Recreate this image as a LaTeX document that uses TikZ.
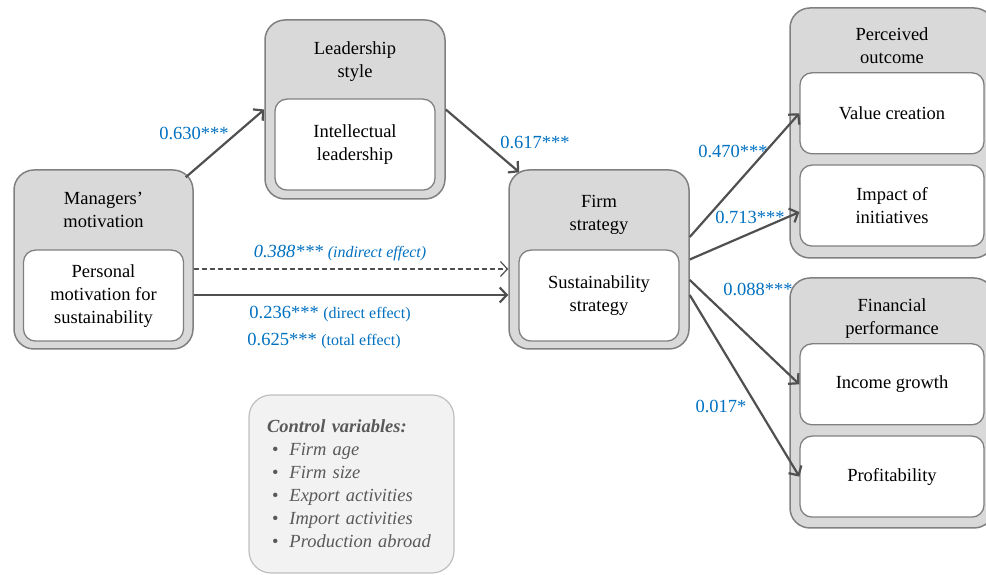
\documentclass[tikz,border=0pt]{standalone}
\usepackage{fontspec}
\setmainfont{Liberation Serif}
\usepackage{xcolor}
\usetikzlibrary{arrows.meta,positioning}
\definecolor{boxgrey}{HTML}{D9D9D9}
\definecolor{edgegrey}{HTML}{808080}
\definecolor{arrowgrey}{HTML}{505050}
\definecolor{coefblue}{HTML}{0070C0}
\definecolor{ctrlfill}{HTML}{F2F2F2}
\definecolor{ctrledge}{HTML}{BFBFBF}
\definecolor{ctrltext}{HTML}{595959}
\newcommand{\effectfont}{\fontsize{16}{20}\selectfont}

\begin{document}
\begin{tikzpicture}[
  x=1pt,y=1pt,
  outerbox/.style={draw=edgegrey,line width=1.5pt,rounded corners=20pt,fill=boxgrey},
  innerbox/.style={draw=edgegrey,line width=1.3pt,rounded corners=12pt,fill=white,
                   minimum width=160pt,minimum height=91pt,align=center,
                   font=\fontsize{18.5}{23}\selectfont},
  titletext/.style={align=center,font=\fontsize{18.5}{23}\selectfont,inner sep=0pt},
  arr/.style={-{Straight Barb[length=7pt,width=15pt]},line width=2.2pt,arrowgrey},
  coef/.style={coefblue,font=\fontsize{18.5}{23}\selectfont,inner sep=0pt}
]
\useasboundingbox (0,0) rectangle (986,575);

% managers' motivation
\node[outerbox,minimum width=179pt,minimum height=179pt] (mgr) at (103.5,315.5) {};
\node[titletext] (mgrtitle) at ([yshift=-40.5pt]mgr.north) {Managers’\\motivation};
\node[innerbox,above=8pt of mgr.south] (mgrinner) {Personal\\motivation for\\sustainability};

% leadership style
\node[outerbox,minimum width=180pt,minimum height=179pt] (lead) at (355,465.5) {};
\node[titletext] (leadtitle) at ([yshift=-42.5pt]lead.north) {Leadership\\style};
\node[innerbox,above=9pt of lead.south] (leadinner) {Intellectual\\leadership};

% firm strategy
\node[outerbox,minimum width=180pt,minimum height=179pt] (firm) at (599,315.5) {};
\node[titletext] (firmtitle) at ([yshift=-46pt]firm.north) {Firm\\strategy};
\node[innerbox,above=8pt of firm.south] (firminner) {Sustainability\\strategy};

% perceived outcome
\node[outerbox,minimum width=204pt,minimum height=250pt] (perc) at (892,442) {};
\node[titletext] (perctitle) at ([yshift=-38.5pt]perc.north) {Perceived\\outcome};
\node[innerbox,minimum width=184pt,minimum height=81pt,above=12pt of perc.south] (impact) {Impact of\\initiatives};
\node[innerbox,minimum width=184pt,minimum height=81pt,above=10pt of impact] (value) {Value creation};

% financial performance
\node[outerbox,minimum width=204pt,minimum height=250pt] (fin) at (892,172) {};
\node[titletext] (fintitle) at ([yshift=-41.5pt]fin.north) {Financial\\performance};
\node[innerbox,minimum width=184pt,minimum height=81pt,above=11pt of fin.south] (profit) {Profitability};
\node[innerbox,minimum width=184pt,minimum height=81pt,above=10pt of profit] (income) {Income growth};

% control variables
\node[draw=ctrledge,line width=1.2pt,rounded corners=22pt,fill=ctrlfill,
      minimum height=178pt,text width=169pt,inner xsep=18pt,align=left,
      text=ctrltext,font=\fontsize{18.5}{23}\selectfont] (ctrl) at (351.5,91)
  {\textbf{\textit{Control variables:}}\\
   \hspace*{5pt}\textbullet\hspace{11pt}\textit{Firm age}\\
   \hspace*{5pt}\textbullet\hspace{11pt}\textit{Firm size}\\
   \hspace*{5pt}\textbullet\hspace{11pt}\textit{Export activities}\\
   \hspace*{5pt}\textbullet\hspace{11pt}\textit{Import activities}\\
   \hspace*{5pt}\textbullet\hspace{11pt}\textit{Production abroad}};

% paths
\draw[arr] ([xshift=-8pt,yshift=-8pt]mgr.north east) -- (lead.west);
\draw[arr] (lead.east) -- ([xshift=11pt,yshift=-3pt]firm.north west);
\draw[arr,line width=1.2pt,dash pattern=on 5pt off 3pt] ([yshift=-9.5pt]mgr.east) -- ([yshift=-9.5pt]firm.west);
\draw[arr] ([yshift=-35.5pt]mgr.east) -- ([yshift=-35.5pt]firm.west);
\draw[arr] ([yshift=22.5pt]firm.east) -- (value.west);
\draw[arr] (firm.east) -- ([yshift=-6.5pt]impact.west);
\draw[arr] ([yshift=-20.5pt]firm.east) -- (income.west);
\draw[arr] ([yshift=-35.5pt]firm.east) -- (profit.west);

% coefficients
\node[coef] (c630) at (194,442) {0.630***};
\node[coef] (c617) at (535,433) {0.617***};
\node[coef] (c388) at (340,322) {\textit{0.388*** {\effectfont(indirect effect)}}};
\node[coef] (c236) at (330,261) {0.236*** {\effectfont(direct effect)}};
\node[coef] (c625) at (324,234) {0.625*** {\effectfont(total effect)}};
\node[coef] (c470) at (733,424) {0.470***};
\node[coef] (c713) at (750,358) {0.713***};
\node[coef] (c088) at (758,286) {0.088***};
\node[coef] (c017) at (721,169) {0.017*};
\end{tikzpicture}
\end{document}
